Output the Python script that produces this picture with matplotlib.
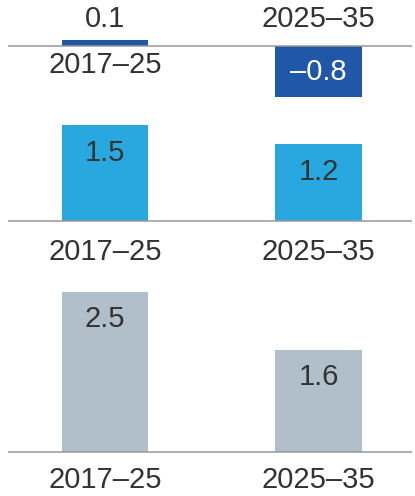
import matplotlib.pyplot as plt

plt.rcParams["font.family"] = ["Liberation Sans", "DejaVu Sans"]

periods = ["2017–25", "2025–35"]
top_values = [0.1, -0.8]
mid_values = [1.5, 1.2]
bottom_values = [2.5, 1.6]

top_color = "#2157a8"
mid_color = "#29a8e0"
bottom_color = "#b0bfca"
text_color = "#333333"
line_color = "#999999"

W, H = 415, 496
PX_PER_UNIT = 64.0
FS = 21
CAP_HALF = 10  # roughly half of the cap height in pixels


def make_axes(fig, y_top, y_bot, baseline):
    # axes placed in pixel coordinates, same vertical scale for all panels
    x0, x1 = 8, 412
    ax = fig.add_axes([x0 / W, 1 - y_bot / H, (x1 - x0) / W, (y_bot - y_top) / H])
    ax.set_ylim(-(y_bot - baseline) / PX_PER_UNIT, (baseline - y_top) / PX_PER_UNIT)
    spacing = 213.5
    ax.set_xlim(-(105 - x0) / spacing, 1 + (x1 - 318.5) / spacing)
    ax.axis("off")
    ax.axhline(0, color=line_color, linewidth=1.1, zorder=3)
    return ax


def label(ax, text, x, y, dy, color=text_color):
    ax.annotate(text, (x, y), xytext=(0, dy - CAP_HALF), textcoords="offset pixels",
                ha="center", va="baseline", fontsize=FS, color=color)


fig = plt.figure(figsize=(W / 100, H / 100), dpi=100)
bar_w = 86.5 / 213.5
xs = [0, 1]

# top panel
ax = make_axes(fig, 0, 110, 46)
ax.bar(xs, top_values, width=bar_w, color=top_color, zorder=2)
label(ax, f"{top_values[0]}", 0, 0, 29)
label(ax, periods[0], 0, 0, -17)
label(ax, periods[1], 1, 0, 29)
label(ax, f"–{abs(top_values[1])}", 1, top_values[1], 27, color="white")

# middle panel
ax = make_axes(fig, 110, 270, 221)
ax.bar(xs, mid_values, width=bar_w, color=mid_color, zorder=2)
for x, v in zip(xs, mid_values):
    label(ax, f"{v}", x, v, -26)
    label(ax, periods[x], x, 0, -29)

# bottom panel
ax = make_axes(fig, 280, 496, 452)
ax.bar(xs, bottom_values, width=bar_w, color=bottom_color, zorder=2)
for x, v in zip(xs, bottom_values):
    label(ax, f"{v}", x, v, -25)
    label(ax, periods[x], x, 0, -26)

fig.savefig("out.png", dpi=100)
